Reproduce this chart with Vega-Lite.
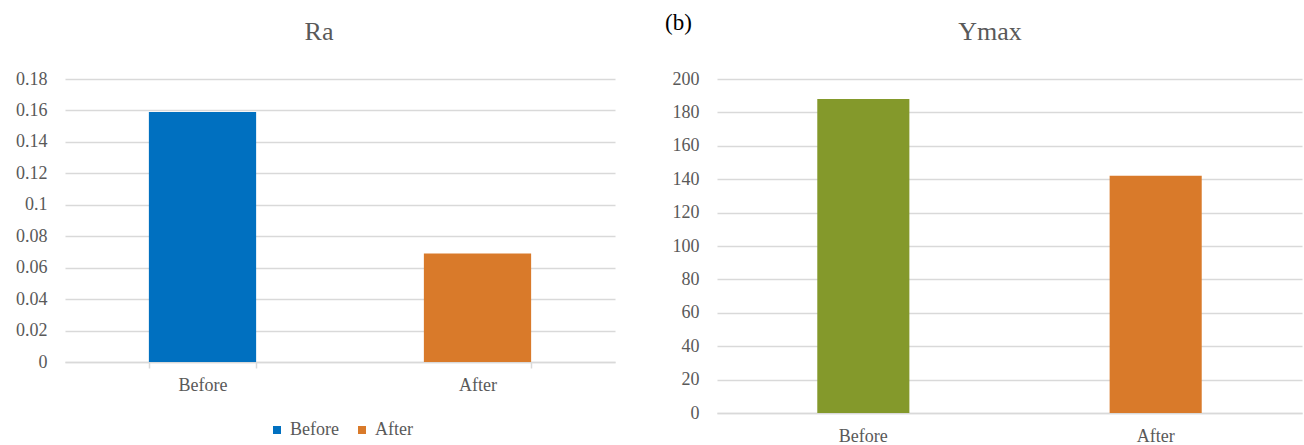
{
  "$schema": "https://vega.github.io/schema/vega-lite/v6.json",
  "background": "white",
  "padding": {"left": 13, "top": 12, "right": 2, "bottom": 0},
  "title": {"text": "(b)", "anchor": "middle", "dx": 21, "offset": -16, "fontSize": 23, "color": "#000000", "fontWeight": "normal", "font": "Liberation Serif"},
  "config": {
    "font": "Liberation Serif",
    "view": {"stroke": null},
    "axis": {"labelColor": "#595959", "labelFontSize": 17, "gridColor": "#D9D9D9", "gridWidth": 1.5, "labelFont": "Liberation Serif"},
    "legend": {"labelFont": "Liberation Serif", "layout": {"bottom": {"anchor": "middle", "bounds": "full"}}},
    "title": {"font": "Liberation Serif", "fontSize": 26, "color": "#595959", "fontWeight": "normal", "frame": "bounds", "offset": 25}
  },
  "spacing": 55,
  "resolve": {"scale": {"color": "independent"}, "legend": {"color": "independent"}},
  "hconcat": [
    {
      "width": 550,
      "height": 283,
      "title": {"text": "Ra", "dx": 5},
      "data": {"values": [{"stage": "Before", "Ra": 0.159}, {"stage": "After", "Ra": 0.069}]},
      "mark": {"type": "bar"},
      "encoding": {
        "x": {"field": "stage", "type": "nominal", "sort": ["Before", "After"],
          "scale": {"paddingInner": 0.61, "paddingOuter": 0.305},
          "axis": {"title": null, "labelAngle": 0, "labelFont": "Liberation Serif", "labelFontSize": 18, "tickBand": "extent", "ticks": true, "tickSize": 6, "tickColor": "#D9D9D9", "tickWidth": 1.5, "domainColor": "#D9D9D9", "domainWidth": 1.5, "labelPadding": 8, "grid": false}},
        "y": {"field": "Ra", "type": "quantitative",
          "scale": {"domain": [0, 0.18], "nice": false},
          "axis": {"title": null, "labelFont": "Liberation Serif", "labelFontSize": 18, "values": [0, 0.02, 0.04, 0.06, 0.08, 0.1, 0.12, 0.14, 0.16, 0.18], "format": "~g", "grid": true, "domain": false, "ticks": false, "labelPadding": 18, "minExtent": 52, "maxExtent": 52}},
        "color": {"field": "stage", "type": "nominal",
          "scale": {"domain": ["Before", "After"], "range": ["#0070C0", "#D97A2A"]},
          "legend": {"title": null, "orient": "bottom", "direction": "horizontal", "symbolType": "square", "symbolSize": 64, "labelFontSize": 18, "labelColor": "#595959", "labelFont": "Liberation Serif", "columnPadding": 14, "offset": 27}}
      }
    },
    {
      "width": 585,
      "height": 334,
      "title": {"text": "Ymax", "dx": 4},
      "data": {"values": [{"stage": "Before", "Ymax": 188}, {"stage": "After", "Ymax": 142}]},
      "mark": {"type": "bar"},
      "encoding": {
        "x": {"field": "stage", "type": "nominal", "sort": ["Before", "After"],
          "scale": {"paddingInner": 0.685, "paddingOuter": 0.343},
          "axis": {"title": null, "labelAngle": 0, "labelFont": "Liberation Serif", "labelFontSize": 18, "ticks": false, "domainColor": "#D9D9D9", "domainWidth": 1.5, "labelPadding": 14, "grid": false}},
        "y": {"field": "Ymax", "type": "quantitative",
          "scale": {"domain": [0, 200], "nice": false},
          "axis": {"title": null, "labelFont": "Liberation Serif", "labelFontSize": 18, "values": [0, 20, 40, 60, 80, 100, 120, 140, 160, 180, 200], "grid": true, "domain": false, "ticks": false, "labelPadding": 18, "minExtent": 47, "maxExtent": 47}},
        "color": {"field": "stage", "type": "nominal",
          "scale": {"domain": ["Before", "After"], "range": ["#84992B", "#D97A2A"]},
          "legend": null}
      }
    }
  ]
}
